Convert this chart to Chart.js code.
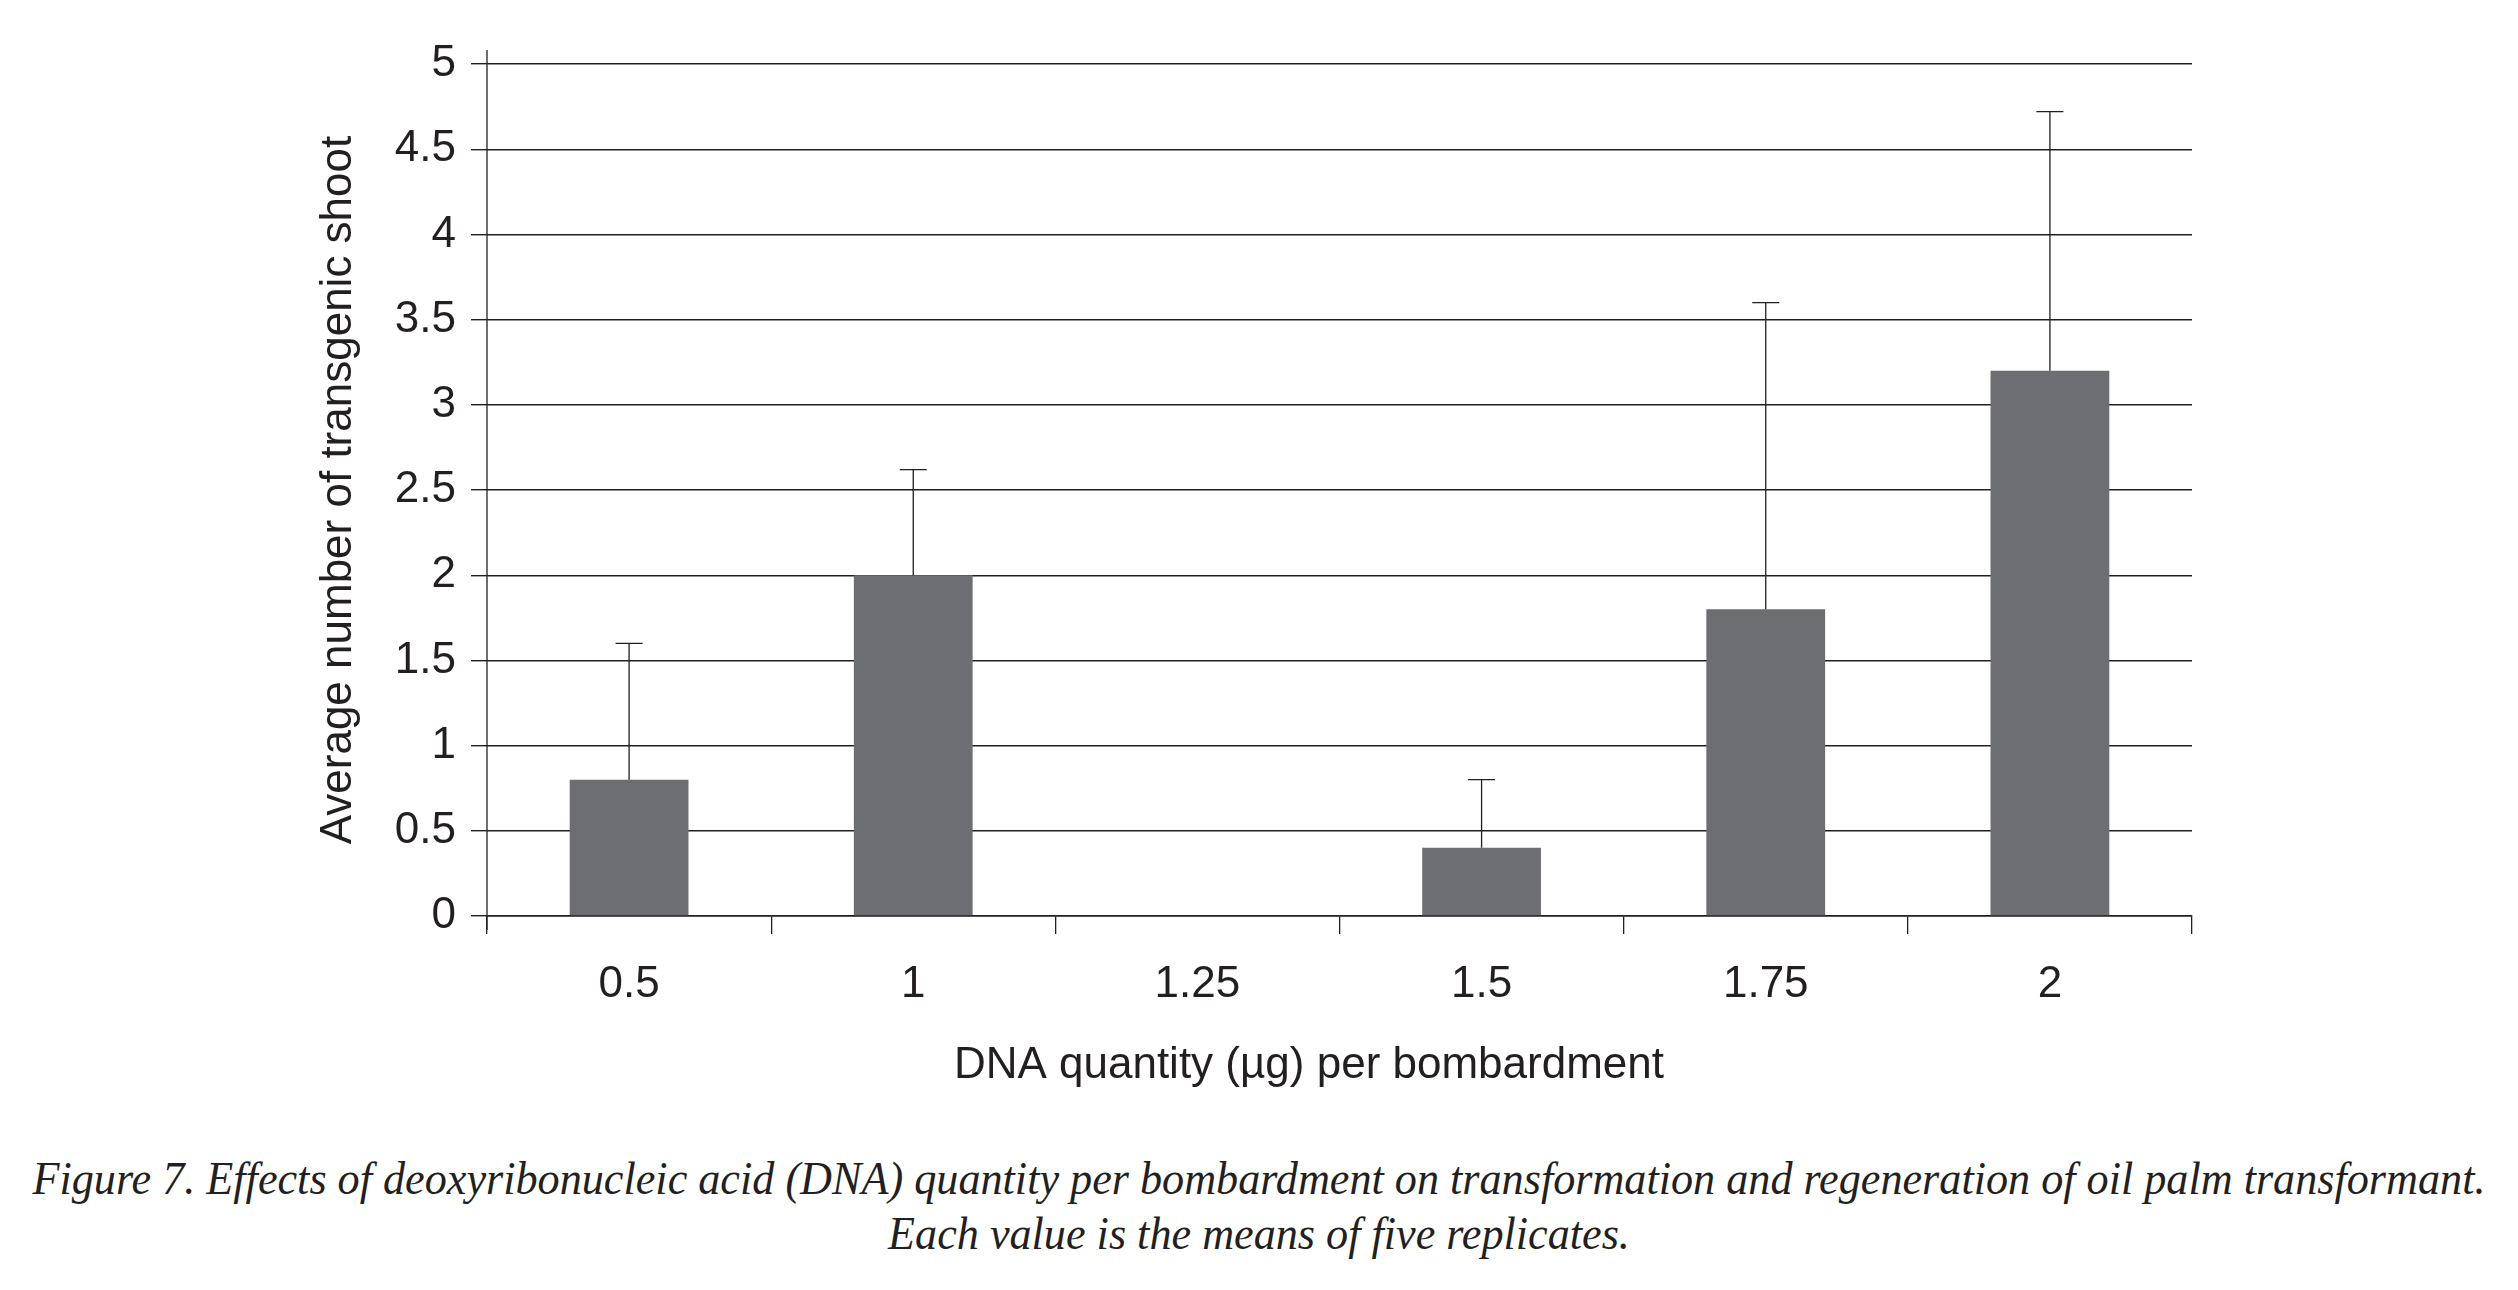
<!DOCTYPE html>
<html lang="en">
<head>
    <meta charset="UTF-8">
    <title>DNA quantity per bombardment</title>
    <script src="https://cdn.jsdelivr.net/npm/chart.js"></script>
    <style>
        body { margin: 0; background: #fff; width: 2518px; height: 1290px; position: relative; overflow: hidden; }
        #wrap { position: absolute; left: 0; top: 0; }
        #caption {
            position: absolute; left: -200px; top: 1151px; width: 2918px;
            text-align: center; color: #231f20; white-space: nowrap;
            font-family: "Liberation Serif", "DejaVu Serif", serif;
            font-style: italic; font-size: 47px; line-height: 55px;
            transform: scaleX(0.94); transform-origin: 50% 0;
        }
    </style>
</head>
<body>
    <div id="wrap"><canvas id="dnaChart" width="2518" height="1130"></canvas></div>
    <div id="caption">Figure 7. Effects of deoxyribonucleic acid (DNA) quantity per bombardment on transformation and regeneration of oil palm transformant.<br>Each value is the means of five replicates.</div>
    <script>
        // DNA quantity (ug) per bombardment
        const doses = ['0.5', '1', '1.25', '1.5', '1.75', '2'];
        // mean number of transgenic shoots (5 replicates)
        const means = [0.8, 2.0, 0, 0.4, 1.8, 3.2];
        // upper error
        const errors = [0.8, 0.62, 0, 0.4, 1.8, 1.52];
        const yTicks = [0, 0.5, 1, 1.5, 2, 2.5, 3, 3.5, 4, 4.5, 5];

        const ink = '#231f20';

        const errorBars = {
            id: 'errorBars',
            afterDatasetsDraw(chart) {
                const ctx = chart.ctx;
                const y = chart.scales.y;
                const meta = chart.getDatasetMeta(0);
                ctx.save();
                ctx.strokeStyle = ink;
                ctx.lineWidth = 1.3;
                meta.data.forEach((bar, i) => {
                    if (!errors[i]) return;
                    const top = y.getPixelForValue(means[i] + errors[i]);
                    ctx.beginPath();
                    ctx.moveTo(bar.x, bar.y);
                    ctx.lineTo(bar.x, top);
                    ctx.moveTo(bar.x - 13.5, top);
                    ctx.lineTo(bar.x + 13.5, top);
                    ctx.stroke();
                });
                ctx.restore();
            }
        };

        // y axis line sticks out a little above the top gridline
        const yAxisLine = {
            id: 'yAxisLine',
            afterDraw(chart) {
                const {ctx, chartArea} = chart;
                ctx.save();
                ctx.strokeStyle = ink;
                ctx.lineWidth = 1.3;
                ctx.beginPath();
                ctx.moveTo(chartArea.left, chartArea.top - 14);
                ctx.lineTo(chartArea.left, chartArea.bottom + 14);
                ctx.stroke();
                ctx.restore();
            }
        };

        const tickFont = { family: '"Liberation Sans", Arial, sans-serif', size: 44 };

        new Chart(document.getElementById('dnaChart').getContext('2d'), {
            type: 'bar',
            data: {
                labels: doses,
                datasets: [{
                    data: means,
                    backgroundColor: '#6d6e71',
                    borderWidth: 0,
                    categoryPercentage: 0.418,
                    barPercentage: 1
                }]
            },
            options: {
                responsive: false,
                devicePixelRatio: 1,
                animation: false,
                layout: { padding: { top: 64, right: 326, left: 0, bottom: 0 } },
                plugins: { legend: { display: false }, tooltip: { enabled: false } },
                scales: {
                    x: {
                        grid: { drawOnChartArea: false, drawTicks: true, tickLength: 18, color: ink, lineWidth: 1.3 },
                        border: { display: true, color: ink, width: 1.4 },
                        ticks: { font: tickFont, color: ink, padding: 24, maxRotation: 0 },
                        title: {
                            display: true,
                            text: 'DNA quantity (µg) per bombardment     ',
                            font: tickFont,
                            color: ink,
                            padding: { top: 0, bottom: 38 }
                        },
                        afterFit(scale) { scale.height = 214; }
                    },
                    y: {
                        min: 0,
                        max: 5,
                        afterBuildTicks(scale) { scale.ticks = yTicks.map(v => ({ value: v })); },
                        grid: { color: ink, lineWidth: 1.4, tickLength: 16 },
                        border: { display: false },
                        ticks: { font: tickFont, color: ink, padding: 15, callback: v => String(v) },
                        title: {
                            display: true,
                            text: 'Average number of transgenic shoot',
                            font: tickFont,
                            color: ink,
                            padding: { top: 312, bottom: 0 }
                        },
                        afterFit(scale) { scale.width = 487; }
                    }
                }
            },
            plugins: [errorBars, yAxisLine]
        });
    </script>
</body>
</html>
